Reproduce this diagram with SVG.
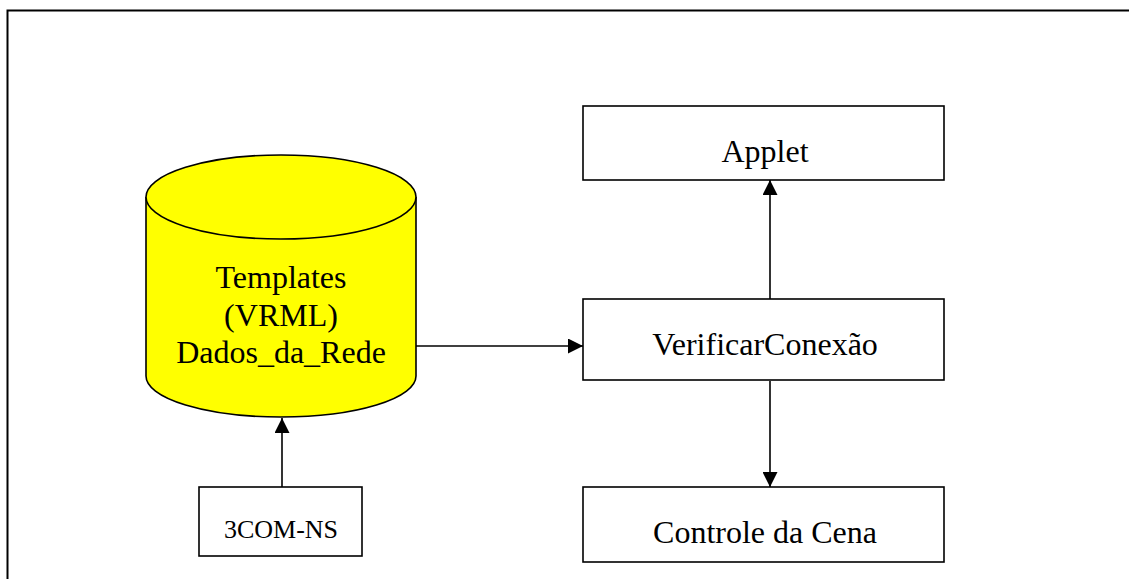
<svg xmlns="http://www.w3.org/2000/svg" width="1129" height="579" viewBox="0 0 1129 579">
  <style>
    .box { fill: #ffffff; stroke: #000000; stroke-width: 1.6; }
    .db { fill: #ffff00; stroke: #000000; stroke-width: 1.6; }
    .lbl { font-family: "Liberation Serif", "Times New Roman", serif; fill: #000000; text-anchor: middle; }
    .big { font-size: 32px; }
    .small { font-size: 26px; }
    .edge { stroke: #000000; stroke-width: 1.6; fill: none; marker-end: url(#arrow); }
  </style>
  <defs>
    <marker id="arrow" viewBox="0 0 15 15" refX="15" refY="7.5" markerWidth="15" markerHeight="15" markerUnits="userSpaceOnUse" orient="auto">
      <path d="M0,0 L15,7.5 L0,15 Z" fill="#000000"/>
    </marker>
  </defs>

  <rect width="1129" height="579" fill="#ffffff"/>

  <!-- page frame -->
  <path d="M7.5,579 V10.5 H1129" fill="none" stroke="#000000" stroke-width="2"/>

  <!-- connectors -->
  <g id="connectors">
    <line class="edge" x1="416" y1="346" x2="583" y2="346"/>
    <line class="edge" x1="770" y1="299" x2="770" y2="180"/>
    <line class="edge" x1="770" y1="381" x2="770" y2="487"/>
    <line class="edge" x1="282" y1="487" x2="282" y2="418"/>
  </g>

  <!-- database -->
  <g id="templates">
    <path class="db" d="M146,197 V376 A135,41 0 0 0 416,376 V197 A135,42 0 0 0 146,197 Z"/>
    <path class="db" d="M146,197 A135,42 0 0 0 416,197" fill="none"/>
    <text class="lbl big" x="281" y="288">Templates</text>
    <text class="lbl big" x="281" y="326">(VRML)</text>
    <text class="lbl big" x="281" y="363">Dados_da_Rede</text>
  </g>

  <g id="applet">
    <rect class="box" x="583" y="106" width="361" height="74"/>
    <text class="lbl big" x="765" y="162">Applet</text>
  </g>

  <g id="verificar">
    <rect class="box" x="583" y="299" width="361" height="81"/>
    <text class="lbl big" x="765" y="355">VerificarConexão</text>
  </g>

  <g id="controle">
    <rect class="box" x="583" y="487" width="361" height="75"/>
    <text class="lbl big" x="765" y="543">Controle da Cena</text>
  </g>

  <g id="com-ns">
    <rect class="box" x="199" y="487" width="163" height="69"/>
    <text class="lbl small" x="281" y="538">3COM-NS</text>
  </g>
</svg>
